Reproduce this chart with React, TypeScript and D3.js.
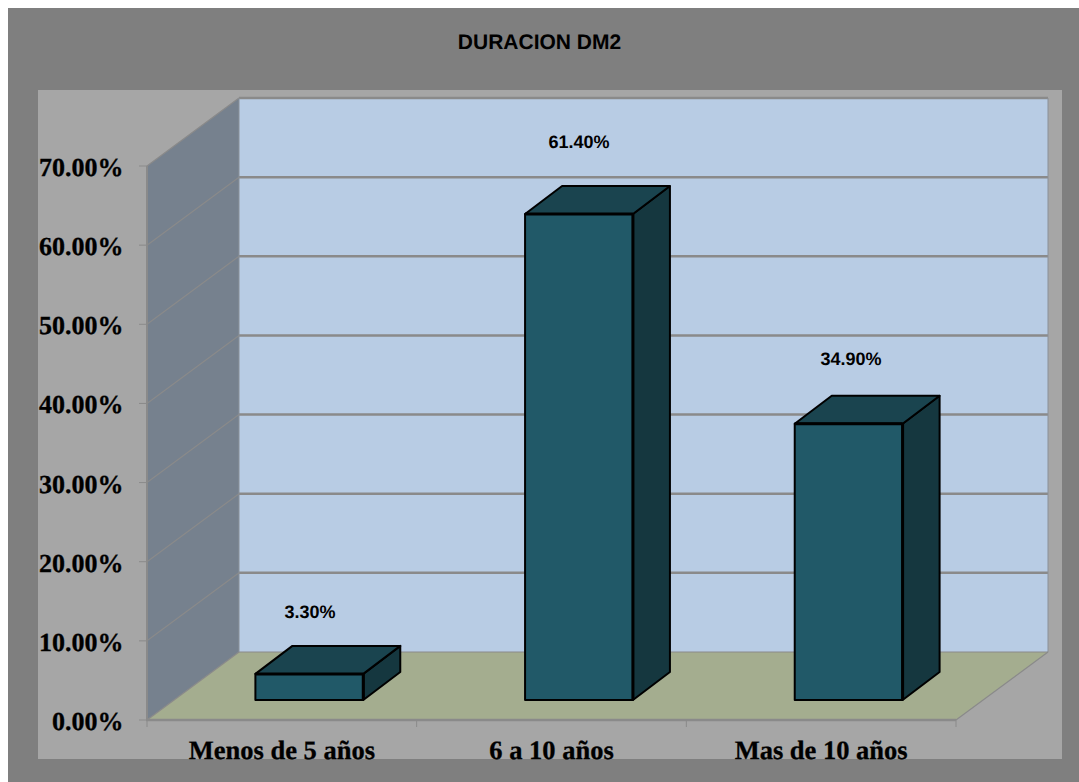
import React from "react";
import * as d3 from "d3";

const title = "DURACION DM2";
const categories = ["Menos de 5 años", "6 a 10 años", "Mas de 10 años"];
const values = [3.3, 61.4, 34.9];
const valueLabels = ["3.30%", "61.40%", "34.90%"];
const yTicks = [0, 10, 20, 30, 40, 50, 60, 70];

const x = d3.scaleBand<string>().domain(categories).range([147, 956]).paddingInner(0.6).paddingOuter(0.3);
const y = d3.scaleLinear().domain([0, 70]).range([720, 166]);
const floor = { dx: 92, dy: -68 };
const barNear = { dx: 27.5, dy: -20 };
const barFar = { dx: 64.5, dy: -48 };
const labelPos = [[310, 612], [579, 142], [851, 359]];

const pts = (p: number[][]) => p.map((a) => a.join(",")).join(" ");

export default function App() {
  const x0 = x.range()[0];
  const x1 = x.range()[1];
  const base = y(0);
  const top = y(70);
  const step = x.step();
  return (
    <svg width={1079} height={782} textRendering="geometricPrecision" style={{ position: "absolute", left: 0, top: 0, display: "block" }}>
      <rect x={0} y={0} width={1079} height={782} fill="#ffffff" />
      <rect x={8} y={8} width={1071} height={774} fill="#7f7f7f" />
      <rect x={38} y={90} width={1024} height={669} fill="#a6a6a6" />
      <text x={539.5} y={49} textAnchor="middle" fontFamily="Liberation Sans" fontWeight="bold" fontSize={21} fill="#000">{title}</text>

      <polygon points={pts([[x0, top], [x0 + floor.dx, top + floor.dy], [x0 + floor.dx, base + floor.dy], [x0, base]])} fill="#76818e" />
      <rect x={x0 + floor.dx} y={top + floor.dy} width={x1 - x0} height={base - top} fill="#b8cce4" />
      <polygon points={pts([[x0, base], [x1, base], [x1 + floor.dx, base + floor.dy], [x0 + floor.dx, base + floor.dy]])} fill="#a4ad8f" />

      {yTicks.map((t) => (
        <g key={t} stroke="#8a8a8a">
          <line x1={x0 - 8} x2={x0} y1={y(t)} y2={y(t)} strokeWidth={1} />
          <line x1={x0} x2={x0 + floor.dx} y1={y(t)} y2={y(t) + floor.dy} strokeWidth={1.2} />
          {t > 0 && <line x1={x0 + floor.dx} x2={x1 + floor.dx} y1={y(t) + floor.dy} y2={y(t) + floor.dy} strokeWidth={2.5} />}
        </g>
      ))}
      <line x1={x0 + floor.dx} x2={x1 + floor.dx} y1={base + floor.dy} y2={base + floor.dy} stroke="#8a8a8a" strokeWidth={1} />
      <line x1={x0 + floor.dx} x2={x0 + floor.dx} y1={top + floor.dy} y2={base + floor.dy} stroke="#8a9098" strokeWidth={1} />
      <line x1={x1 + floor.dx} x2={x1 + floor.dx} y1={top + floor.dy} y2={base + floor.dy} stroke="#8a9098" strokeWidth={1} />
      <line x1={x0} x2={x0} y1={top} y2={base + 1} stroke="#8a8a8a" strokeWidth={2} />
      <line x1={x0 - 1} x2={x1} y1={base} y2={base} stroke="#8a8a8a" strokeWidth={2.5} />
      <line x1={x1} x2={x1 + floor.dx} y1={base} y2={base + floor.dy} stroke="#8a8a8a" strokeWidth={1.2} />
      {d3.range(categories.length + 1).map((i) => (
        <line key={i} x1={x0 + i * step} x2={x0 + i * step} y1={base} y2={base + 7} stroke="#8a8a8a" strokeWidth={1} />
      ))}

      {categories.map((c, i) => {
        const l = (x(c) as number) + barNear.dx;
        const r = l + x.bandwidth();
        const b = base + barNear.dy;
        const h = base - y(values[i]);
        const t = b - h;
        const ox = barFar.dx - barNear.dx;
        const oy = barFar.dy - barNear.dy;
        return (
          <g key={c} stroke="#000" strokeWidth={2} strokeLinejoin="round">
            <polygon points={pts([[r, t], [r + ox, t + oy], [r + ox, b + oy], [r, b]])} fill="#15373f" />
            <polygon points={pts([[l, t], [r, t], [r + ox, t + oy], [l + ox, t + oy]])} fill="#1a444f" />
            <rect x={l} y={t} width={r - l} height={h} fill="#215968" />
            <line x1={l} x2={r} y1={t} y2={t} strokeWidth={3} />
            <line x1={r} x2={r} y1={t} y2={b} strokeWidth={3} />
          </g>
        );
      })}

      {valueLabels.map((s, i) => (
        <text key={s} x={labelPos[i][0]} y={labelPos[i][1] + 6} textAnchor="middle" fontFamily="Liberation Sans" fontWeight="bold" fontSize={18} fill="#000">{s}</text>
      ))}
      {yTicks.map((t) => (
        <text key={t} x={123.5} y={y(t) + 10} textAnchor="end" fontFamily="Liberation Serif" fontWeight="bold" fontSize={26} stroke="#000" strokeWidth={0.3} fill="#000">{d3.format(".2f")(t)}%</text>
      ))}
      {categories.map((c) => (
        <text key={c} x={(x(c) as number) + x.bandwidth() / 2} y={759} textAnchor="middle" fontFamily="Liberation Serif" fontWeight="bold" fontSize={26.5} stroke="#000" strokeWidth={0.3} fill="#000">{c}</text>
      ))}
    </svg>
  );
}
